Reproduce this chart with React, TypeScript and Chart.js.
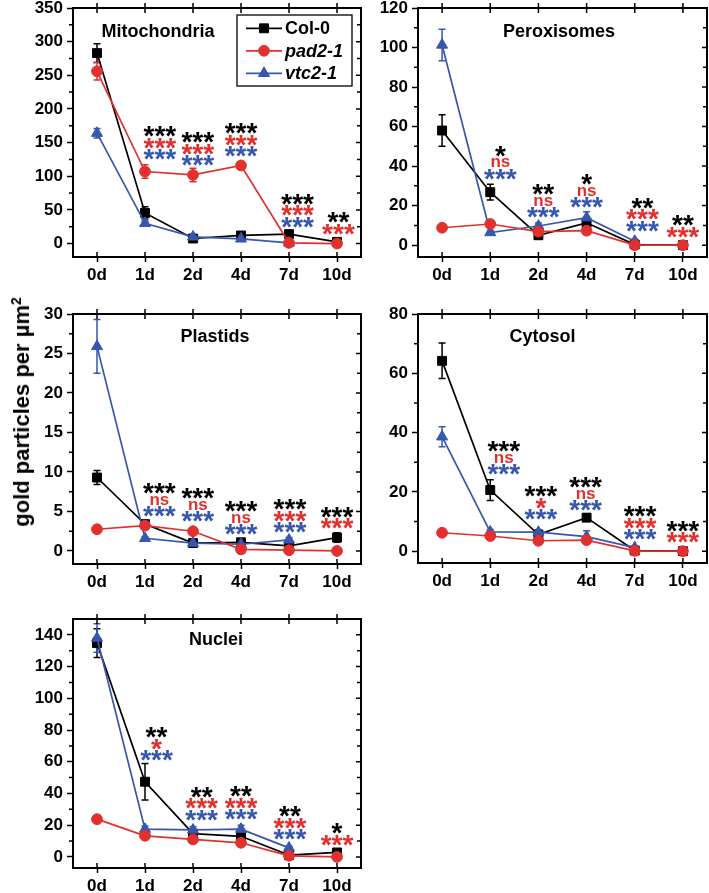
import React, { useEffect, useRef } from 'react';
import { Chart, registerables } from 'chart.js';

Chart.register(...registerables);

// ---------- data ----------
const days = ['0d', '1d', '2d', '4d', '7d', '10d'];
const seriesNames = ['Col-0', 'pad2-1', 'vtc2-1'];

// Mitochondria
const mitoCol = [283, 45.5, 7.5, 12, 14, 2.5];
const mitoColErr = [14, 9, 2, 3, 3, 1];
const mitoPad = [256, 107, 102, 116, 1, 0];
const mitoPadErr = [13, 10, 10, 5, 1, 0];
const mitoVtc = [164, 30, 10, 7, 1, null];
const mitoVtcErr = [7, 3, 2, 2, 1, null];
const mitoSigCol = ['', '***', '***', '***', '***', '**'];
const mitoSigPad = ['', '***', '***', '***', '***', '***'];
const mitoSigVtc = ['', '***', '***', '***', '***', ''];
const mitoSigAt = [null, 166, 157, 170.5, 66, 38];
const mitoSigPos = [0, 1.31, 2.1, 3.0, 4.18, 5.03];

// Peroxisomes
const peroCol = [58, 26.8, 5, 11.3, 0.3, 0];
const peroColErr = [8, 4, 1, 3, 0.5, 0];
const peroPad = [8.8, 10.7, 6.8, 7.3, 0, 0];
const peroPadErr = [1, 1, 1, 1, 0, 0];
const peroVtc = [101.3, 6.4, 9.7, 13.9, 2, null];
const peroVtcErr = [8, 1, 1.5, 3, 1, null];
const peroSigCol = ['', '*', '**', '*', '**', '**'];
const peroSigPad = ['', 'ns', 'ns', 'ns', '***', '***'];
const peroSigVtc = ['', '***', '***', '***', '***', ''];
const peroSigAt = [null, 47.4, 28, 33, 21.2, 12.4];
const peroSigPos = [0, 1.21, 2.1, 3.0, 4.16, 5.0];

// Plastids
const plasCol = [9.3, 3.4, 1.0, 1.1, 0.65, 1.7];
const plasColErr = [0.9, 0.4, 0.3, 0.4, 0.2, 0.6];
const plasPad = [2.75, 3.2, 2.5, 0.2, 0.1, 0];
const plasPadErr = [0.2, 0.2, 0.2, 0.1, 0.1, 0];
const plasVtc = [25.9, 1.6, 1.0, 0.85, 1.4, null];
const plasVtcErr = [3.4, 0.2, 0.2, 0.2, 0.3, null];
const plasSigCol = ['', '***', '***', '***', '***', '***'];
const plasSigPad = ['', 'ns', 'ns', 'ns', '***', '***'];
const plasSigVtc = ['', '***', '***', '***', '***', ''];
const plasSigAt = [null, 7.9, 7.25, 5.6, 5.85, 4.9];
const plasSigPos = [0, 1.3, 2.1, 3.0, 4.02, 5.0];

// Cytosol
const cytoCol = [64.2, 20.6, 5.6, 11.3, 0.2, 0];
const cytoColErr = [6, 3.5, 0.8, 1.2, 0.2, 0];
const cytoPad = [6.2, 5.1, 3.5, 3.7, 0.1, 0];
const cytoPadErr = [0.8, 0.5, 0.5, 0.5, 0.1, 0];
const cytoVtc = [38.6, 6.5, 6.4, 4.9, 1.2, null];
const cytoVtcErr = [3.4, 0.8, 0.8, 2, 0.5, null];
const cytoSigCol = ['', '***', '***', '***', '***', '***'];
const cytoSigPad = ['', 'ns', '*', 'ns', '***', '***'];
const cytoSigVtc = ['', '***', '***', '***', '***', ''];
const cytoSigAt = [null, 35.3, 20, 23.1, 13.3, 8.45];
const cytoSigPos = [0, 1.28, 2.05, 2.98, 4.11, 5.0];

// Nuclei
const nuclCol = [134.8, 47.4, 14.7, 13, 1.1, 2.8];
const nuclColErr = [9, 11.5, 2, 2, 0.5, 1];
const nuclPad = [23.8, 13.3, 11, 8.9, 0.7, 0];
const nuclPadErr = [1.5, 1, 1, 1, 0.3, 0.3];
const nuclVtc = [138, 17.5, 17, 17.5, 5.7, null];
const nuclVtcErr = [9, 2, 2, 2.5, 1, null];
const nuclSigCol = ['', '**', '**', '**', '**', '*'];
const nuclSigPad = ['', '*', '***', '***', '***', '***'];
const nuclSigVtc = ['', '***', '***', '***', '***', ''];
const nuclSigAt = [null, 78.3, 40.7, 41, 28.4, 17.9];
const nuclSigPos = [0, 1.24, 2.18, 3.0, 4.02, 5.0];

// ---------- styles ----------
const FONT = "'Liberation Sans', Arial, Helvetica, sans-serif";
const COLORS = ['#000000', '#e2302f', '#3757ad'];
const STYLES = ['rect', 'circle', 'triangle'];
const RADII = [6.3, 5.4, 6.4];
const ORDERS = [2, 0, 1];

type PanelCfg = {
  title: string;
  titleDX: number;
  titleDY: number;
  area: { left: number; top: number; width: number; height: number };
  yMin: number;
  yMax: number;
  yStep: number;
  values: (number | null)[][];
  errors: (number | null)[][];
  sig: string[][];
  sigAt: (number | null)[];
  sigPos: number[];
  legend?: boolean;
};

const panels: PanelCfg[] = [
  {
    title: 'Mitochondria', titleDX: 85, titleDY: 24,
    area: { left: 73, top: 8, width: 288, height: 249 },
    yMin: -20, yMax: 350, yStep: 50,
    values: [mitoCol, mitoPad, mitoVtc], errors: [mitoColErr, mitoPadErr, mitoVtcErr],
    sig: [mitoSigCol, mitoSigPad, mitoSigVtc], sigAt: mitoSigAt, sigPos: mitoSigPos, legend: true,
  },
  {
    title: 'Peroxisomes', titleDX: 141, titleDY: 24,
    area: { left: 418, top: 8, width: 289, height: 249 },
    yMin: -6, yMax: 120, yStep: 20,
    values: [peroCol, peroPad, peroVtc], errors: [peroColErr, peroPadErr, peroVtcErr],
    sig: [peroSigCol, peroSigPad, peroSigVtc], sigAt: peroSigAt, sigPos: peroSigPos,
  },
  {
    title: 'Plastids', titleDX: 142, titleDY: 23,
    area: { left: 73, top: 314, width: 288, height: 250 },
    yMin: -1.65, yMax: 30, yStep: 5,
    values: [plasCol, plasPad, plasVtc], errors: [plasColErr, plasPadErr, plasVtcErr],
    sig: [plasSigCol, plasSigPad, plasSigVtc], sigAt: plasSigAt, sigPos: plasSigPos,
  },
  {
    title: 'Cytosol', titleDX: 124.5, titleDY: 23,
    area: { left: 418, top: 314, width: 289, height: 249 },
    yMin: -4, yMax: 80, yStep: 20,
    values: [cytoCol, cytoPad, cytoVtc], errors: [cytoColErr, cytoPadErr, cytoVtcErr],
    sig: [cytoSigCol, cytoSigPad, cytoSigVtc], sigAt: cytoSigAt, sigPos: cytoSigPos,
  },
  {
    title: 'Nuclei', titleDX: 143, titleDY: 21,
    area: { left: 73, top: 619, width: 288, height: 249 },
    yMin: -7, yMax: 150, yStep: 20,
    values: [nuclCol, nuclPad, nuclVtc], errors: [nuclColErr, nuclPadErr, nuclVtcErr],
    sig: [nuclSigCol, nuclSigPad, nuclSigVtc], sigAt: nuclSigAt, sigPos: nuclSigPos,
  },
];

const AX_W = 55;
const AX_H = 35;
const PAD_T = 15;
const PAD_R = 12;
const ROW = 11.5;

function drawMarker(ctx: CanvasRenderingContext2D, style: string, x: number, y: number, r: number, color: string) {
  ctx.save();
  ctx.fillStyle = color;
  ctx.strokeStyle = color;
  ctx.lineWidth = 1;
  ctx.beginPath();
  if (style === 'rect') {
    const s = r * Math.SQRT1_2;
    ctx.rect(x - s, y - s, 2 * s, 2 * s);
  } else if (style === 'circle') {
    ctx.arc(x, y, r, 0, Math.PI * 2);
  } else {
    let a = 0;
    ctx.moveTo(x + Math.sin(a) * r, y - Math.cos(a) * r);
    a += (2 * Math.PI) / 3;
    ctx.lineTo(x + Math.sin(a) * r, y - Math.cos(a) * r);
    a += (2 * Math.PI) / 3;
    ctx.lineTo(x + Math.sin(a) * r, y - Math.cos(a) * r);
  }
  ctx.closePath();
  ctx.fill();
  ctx.stroke();
  ctx.restore();
}

function Panel({ p }: { p: PanelCfg }) {
  const ref = useRef<HTMLCanvasElement>(null);
  const cw = AX_W + p.area.width + PAD_R;
  const ch = PAD_T + p.area.height + AX_H;

  useEffect(() => {
    if (!ref.current) return;

    const errorBars = {
      id: 'errorBars',
      beforeDatasetsDraw(chart: any) {
        const ctx = chart.ctx as CanvasRenderingContext2D;
        const ys = chart.scales.y;
        chart.data.datasets.forEach((ds: any, di: number) => {
          const meta = chart.getDatasetMeta(di);
          ctx.save();
          ctx.strokeStyle = ds.borderColor;
          ctx.lineWidth = 1.5;
          meta.data.forEach((el: any, i: number) => {
            const v = ds.data[i];
            const e = ds.errors[i];
            if (v == null || e == null || e === 0) return;
            const yt = ys.getPixelForValue(v + e);
            const yb = ys.getPixelForValue(v - e);
            ctx.beginPath();
            ctx.moveTo(el.x, yt);
            ctx.lineTo(el.x, yb);
            ctx.moveTo(el.x - 3.5, yt);
            ctx.lineTo(el.x + 3.5, yt);
            ctx.moveTo(el.x - 3.5, yb);
            ctx.lineTo(el.x + 3.5, yb);
            ctx.stroke();
          });
          ctx.restore();
        });
      },
    };

    const decor = {
      id: 'decor',
      afterDraw(chart: any) {
        const ctx = chart.ctx as CanvasRenderingContext2D;
        const a = chart.chartArea;
        const xs = chart.scales.x;
        const ys = chart.scales.y;
        ctx.save();
        ctx.strokeStyle = '#000';
        // frame top and right
        ctx.lineWidth = 2;
        ctx.beginPath();
        ctx.moveTo(a.left - 1, a.top);
        ctx.lineTo(a.right, a.top);
        ctx.lineTo(a.right, a.bottom + 1);
        ctx.stroke();
        // category ticks on top (crossing) and inside bottom
        ctx.lineWidth = 1.5;
        ctx.beginPath();
        days.forEach((_, i) => {
          const x = xs.getPixelForValue(i);
          ctx.moveTo(x, a.top - 5);
          ctx.lineTo(x, a.top + 5);
          ctx.moveTo(x, a.bottom);
          ctx.lineTo(x, a.bottom - 5);
        });
        // y ticks: right side inward (major + minor), left minor outward
        const half = p.yStep / 2;
        for (let k = 0; k * half <= p.yMax + 1e-9; k++) {
          const v = k * half;
          if (v < p.yMin) continue;
          const y = ys.getPixelForValue(v);
          const major = k % 2 === 0;
          ctx.moveTo(a.right, y);
          ctx.lineTo(a.right - (major ? 5 : 4), y);
          if (!major && v < p.yMax - 1e-9) {
            ctx.moveTo(a.left, y);
            ctx.lineTo(a.left - 4, y);
          }
        }
        ctx.stroke();

        // title
        ctx.fillStyle = '#000';
        ctx.font = `bold 18px ${FONT}`;
        ctx.textAlign = 'center';
        ctx.textBaseline = 'middle';
        ctx.fillText(p.title, a.left + p.titleDX, a.top + p.titleDY);

        // significance marks
        ctx.textAlign = 'center';
        ctx.textBaseline = 'alphabetic';
        days.forEach((_, i) => {
          const at = p.sigAt[i];
          if (at == null) return;
          const cx = xs.getPixelForValue(p.sigPos[i]);
          const cy0 = ys.getPixelForValue(at);
          p.sig.forEach((rowArr, r) => {
            const txt = rowArr[i];
            if (!txt) return;
            ctx.font = txt === 'ns' ? `bold 17px ${FONT}` : `bold 28px ${FONT}`;
            ctx.fillStyle = COLORS[r];
            const m = ctx.measureText(txt);
            const cy = cy0 + r * ROW;
            const by = cy + (m.actualBoundingBoxAscent - m.actualBoundingBoxDescent) / 2;
            ctx.fillText(txt, cx, by);
          });
        });

        // legend
        if (p.legend) {
          const bx = a.left + 164;
          const by = a.top + 7;
          const bw = 115;
          const bh = 71;
          ctx.lineWidth = 1.3;
          ctx.strokeStyle = '#000';
          ctx.strokeRect(bx, by, bw, bh);
          chart.data.datasets.forEach((ds: any, di: number) => {
            const ry = by + 13.3 + di * 22.5;
            ctx.strokeStyle = ds.borderColor;
            ctx.lineWidth = 1.8;
            ctx.beginPath();
            ctx.moveTo(bx + 9, ry);
            ctx.lineTo(bx + 45, ry);
            ctx.stroke();
            drawMarker(ctx, STYLES[di], bx + 27, ry, RADII[di], ds.borderColor);
            ctx.fillStyle = '#000';
            ctx.font = di === 0 ? `bold 18px ${FONT}` : `italic bold 18px ${FONT}`;
            ctx.textAlign = 'left';
            ctx.textBaseline = 'middle';
            ctx.fillText(ds.label, bx + 48, ry + 1);
          });
        }
        ctx.restore();
      },
    };

    const tickFont = { family: FONT, size: 17, weight: 'bold' as const };

    const chart = new Chart(ref.current, {
      type: 'line',
      data: {
        labels: days,
        datasets: seriesNames.map((name, i) => ({
          label: name,
          data: p.values[i],
          errors: p.errors[i],
          borderColor: COLORS[i],
          backgroundColor: COLORS[i],
          pointBackgroundColor: COLORS[i],
          pointBorderColor: COLORS[i],
          pointStyle: STYLES[i],
          pointRadius: RADII[i],
          pointBorderWidth: 1,
          borderWidth: 1.7,
          tension: 0,
          order: ORDERS[i],
          spanGaps: false,
        })) as any,
      },
      options: {
        responsive: false,
        animation: false,
        devicePixelRatio: 1,
        layout: { padding: { left: 0, top: PAD_T, right: PAD_R, bottom: 0 } },
        plugins: { legend: { display: false }, tooltip: { enabled: false } },
        scales: {
          x: {
            type: 'category',
            offset: true,
            grid: { display: true, drawOnChartArea: false, drawTicks: true, tickLength: 5, tickWidth: 1.5, tickColor: '#000', offset: false },
            border: { display: true, color: '#000', width: 2 },
            ticks: { color: '#000', font: tickFont, padding: 3, maxRotation: 0, autoSkip: false },
            afterFit: (s: any) => { s.height = AX_H; },
          },
          y: {
            type: 'linear',
            min: p.yMin,
            max: p.yMax,
            grid: { display: true, drawOnChartArea: false, drawTicks: true, tickLength: 6, tickWidth: 1.5, tickColor: '#000' },
            border: { display: true, color: '#000', width: 2 },
            ticks: { color: '#000', font: tickFont, padding: 4, stepSize: p.yStep, includeBounds: false, autoSkip: false },
            afterBuildTicks: (s: any) => {
              s.ticks = s.ticks.filter((t: any) => {
                const q = t.value / p.yStep;
                return t.value >= 0 && Math.abs(q - Math.round(q)) < 1e-6;
              });
            },
            afterFit: (s: any) => { s.width = AX_W; },
          },
        },
      } as any,
      plugins: [errorBars, decor],
    });
    return () => chart.destroy();
  }, []);

  return (
    <canvas
      ref={ref}
      width={cw}
      height={ch}
      style={{ position: 'absolute', left: p.area.left - AX_W, top: p.area.top - PAD_T, width: cw, height: ch }}
    />
  );
}

export default function App() {
  return (
    <div style={{ position: 'absolute', left: 0, top: 0, width: 709, height: 893, background: '#fff', overflow: 'hidden' }}>
      {panels.map((p) => (
        <Panel key={p.title} p={p} />
      ))}
      <div
        style={{
          position: 'absolute',
          left: 22,
          top: 412,
          transform: 'translate(-50%, -50%) rotate(-90deg)',
          font: `bold 22px ${FONT}`,
          whiteSpace: 'nowrap',
          color: '#000',
          lineHeight: '24px',
        }}
      >
        gold particles per µm<sup style={{ fontSize: 14, verticalAlign: 'super', lineHeight: 0 }}>2</sup>
      </div>
    </div>
  );
}
